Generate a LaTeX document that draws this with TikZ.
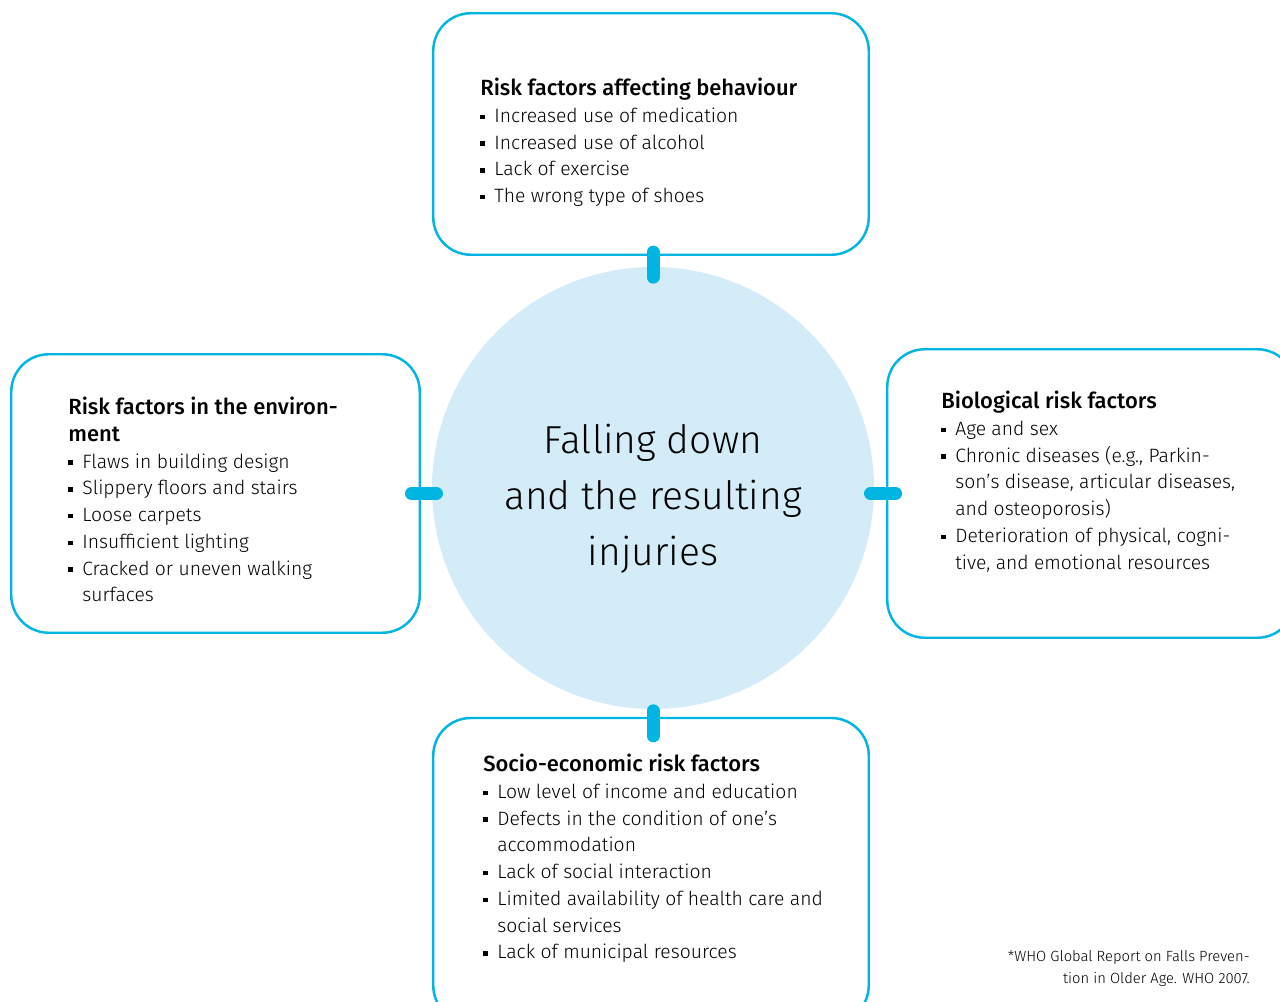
\documentclass[tikz,border=0pt]{standalone}
\usepackage{fontspec}
\setmainfont{Fira Sans}[UprightFont=* Light, BoldFont=* Medium]
\definecolor{fallsline}{HTML}{00B5E2}
\definecolor{fallsfill}{HTML}{D4ECF8}
\newcommand{\bul}{\makebox[0.28cm][l]{\rule[0.17em]{0.09cm}{0.09cm}}}
\newcommand{\ind}{\hspace*{0.28cm}}
\newcommand{\head}[1]{{\bfseries\fontsize{12.5}{15.2}\selectfont #1}}
\tikzset{
  factorbox/.style={draw=fallsline, line width=1.4pt, rounded corners=0.75cm, inner sep=0pt},
  factortext/.style={anchor=north west, inner sep=0pt, align=left, font=\fontsize{11}{15.2}\selectfont},
  linkbar/.style={draw=fallsline, line width=0.26cm, line cap=round}
}
\begin{document}
\begin{tikzpicture}
\useasboundingbox (0,0) rectangle (25.6,20.02);
\clip (0,0) rectangle (25.6,20.02);
% boxes
\node[factorbox, minimum width=8.71cm, minimum height=4.83cm] (behavbox) at (13.02,17.34) {};
\node[factorbox, minimum width=8.17cm, minimum height=5.57cm] (envirbox) at (4.31,10.15) {};
\node[factorbox, minimum width=8.15cm, minimum height=5.77cm] (biobox) at (21.82,10.15) {};
\node[factorbox, minimum width=8.71cm, minimum height=6.1cm] (sociobox) at (13.02,2.61) {};
\node[circle, fill=fallsfill, minimum size=8.84cm, inner sep=0pt] (hub) at (13.06,10.26) {};
\node[align=center, font=\fontsize{22.2}{32}\selectfont] (hubtext) at (13.06,10.04)
  {Falling down\\and the resulting\\injuries};
% texts
\node[factortext] (behav) at (9.60,18.46) {\head{Risk factors affecting behaviour}\\
  \bul Increased use of medication\\
  \bul Increased use of alcohol\\
  \bul Lack of exercise\\
  \bul The wrong type of shoes};
\node[factortext] (envir) at (1.36,12.08) {\head{Risk factors in the environ-}\\
  \head{ment}\\
  \bul Flaws in building design\\
  \bul Slippery floors and stairs\\
  \bul Loose carpets\\
  \bul Insufficient lighting\\
  \bul Cracked or uneven walking\\
  \ind surfaces};
\node[factortext] (bio) at (18.82,12.20) {\head{Biological risk factors}\\
  \bul Age and sex\\
  \bul Chronic diseases (e.g., Parkin-\\
  \ind son’s disease, articular diseases,\\
  \ind and osteoporosis)\\
  \bul Deterioration of physical, cogni-\\
  \ind tive, and emotional resources};
\node[factortext] (socio) at (9.66,4.94) {\head{Socio-economic risk factors}\\
  \bul Low level of income and education\\
  \bul Defects in the condition of one’s\\
  \ind accommodation\\
  \bul Lack of social interaction\\
  \bul Limited availability of health care and\\
  \ind social services\\
  \bul Lack of municipal resources};
\node[anchor=east, align=right, inner sep=0pt, font=\fontsize{8.4}{12}\selectfont] (source) at (25.0,0.65)
  {*WHO Global Report on Falls Preven-\\tion in Older Age. WHO 2007.};
% links
\draw[linkbar] (hub.north) ++(0,0.29) -- ++(0,-0.5);
\draw[linkbar] (hub.south) ++(0,-0.03) -- ++(0,-0.5);
\draw[linkbar] (envirbox.east) ++(-0.19,0) -- ++(0.5,0);
\draw[linkbar] (biobox.west) ++(-0.31,0) -- ++(0.5,0);
\end{tikzpicture}
\end{document}
